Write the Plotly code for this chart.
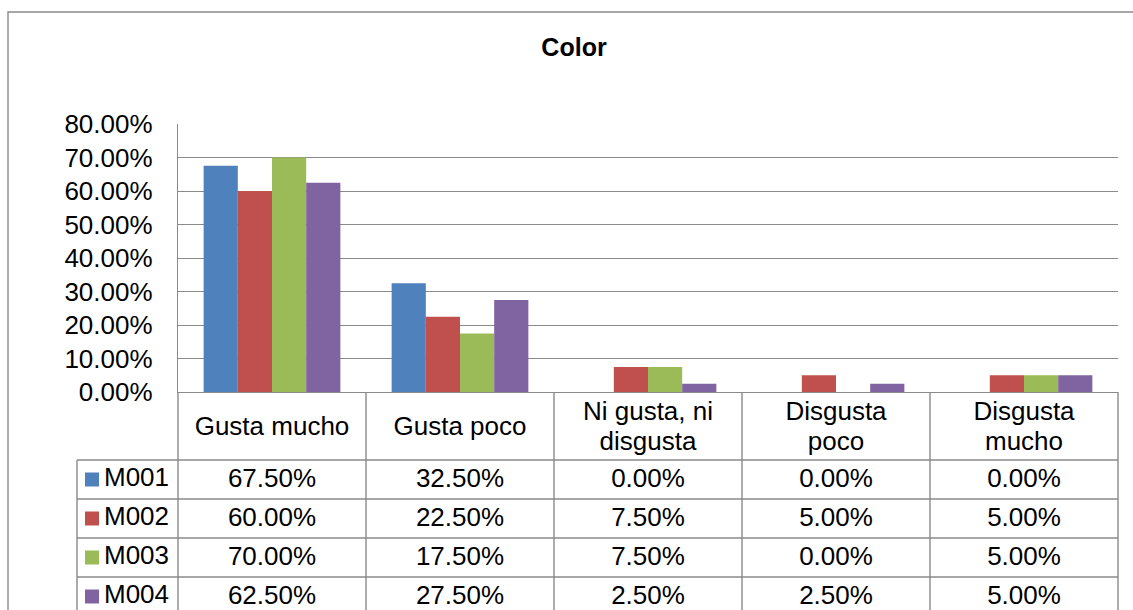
import plotly.graph_objects as go

# ---- data -------------------------------------------------------------
categories = ["Gusta mucho", "Gusta poco", "Ni gusta, ni\ndisgusta",
              "Disgusta\npoco", "Disgusta\nmucho"]
series_names = ["M001", "M002", "M003", "M004"]
m001 = [0.675, 0.325, 0.000, 0.000, 0.000]
m002 = [0.600, 0.225, 0.075, 0.050, 0.050]
m003 = [0.700, 0.175, 0.075, 0.000, 0.050]
m004 = [0.625, 0.275, 0.025, 0.025, 0.050]
y_ticks = [0.0, 0.1, 0.2, 0.3, 0.4, 0.5, 0.6, 0.7, 0.8]
title_text = "Color"

series_values = [m001, m002, m003, m004]
colors = ["#4F81BD", "#C0504D", "#9BBB59", "#8064A2"]

# ---- geometry (pixels) -------------------------------------------------
W, H = 1133, 610
PLOT_L, PLOT_R, PLOT_T, PLOT_B = 178, 1118, 124, 392
TABLE_L = 77
HEADER_H, ROW_H = 68, 39
LINE_GAP = 30
GRID = "#8A8A8A"
FONT = "Liberation Sans, Arial, sans-serif"
FS = 26

n_cat = len(categories)
k = n_cat / (PLOT_R - PLOT_L)          # table-axis units per pixel
X2_DOM = (60, 1130)


def px_to_x2(px):
    return -0.5 + (px - PLOT_L) * k


x_idx = list(range(n_cat))
fig = go.Figure()

# clustered bars
for name, vals, col in zip(series_names, series_values, colors):
    fig.add_trace(go.Bar(x=x_idx, y=vals, name=name, marker_color=col,
                         marker_line_width=0, xaxis="x", yaxis="y"))

# table: header labels (one text item per line)
hx, hy, ht = [], [], []
for i, cat in enumerate(categories):
    lines = cat.split("\n")
    n = len(lines)
    for j, ln in enumerate(lines):
        hx.append(i)
        hy.append(HEADER_H / 2 + 2 + (j - (n - 1) / 2) * LINE_GAP)
        ht.append(ln)
fig.add_trace(go.Scatter(x=hx, y=hy, text=ht, mode="text", xaxis="x2", yaxis="y2",
                         textfont=dict(size=FS, color="black", family=FONT),
                         cliponaxis=False, hoverinfo="skip"))

# table: value rows, legend keys and series names
for r, (name, vals, col) in enumerate(zip(series_names, series_values, colors)):
    yc = HEADER_H + ROW_H * (r + 0.5)
    fig.add_trace(go.Scatter(x=x_idx, y=[yc + 1] * n_cat,
                             text=[f"{v:.2%}" for v in vals], mode="text",
                             xaxis="x2", yaxis="y2", cliponaxis=False,
                             textfont=dict(size=FS, color="black", family=FONT),
                             hoverinfo="skip"))
    fig.add_trace(go.Scatter(x=[px_to_x2(92)], y=[yc], mode="markers",
                             xaxis="x2", yaxis="y2",
                             marker=dict(symbol="square", size=14, color=col,
                                         line=dict(width=0)),
                             hoverinfo="skip"))
    fig.add_annotation(x=px_to_x2(102), y=yc, xref="x2", yref="y2", text=name,
                       showarrow=False, xanchor="left", yanchor="middle", yshift=3,
                       font=dict(size=FS, color="black", family=FONT))

# table grid lines
shapes = []
table_bottom = H - PLOT_B + 10
for b in range(n_cat + 1):
    shapes.append(dict(type="line", xref="x2", yref="y2", x0=b - 0.5, x1=b - 0.5,
                       y0=0, y1=table_bottom, line=dict(color=GRID, width=1.4)))
shapes.append(dict(type="line", xref="x2", yref="y2",
                   x0=px_to_x2(TABLE_L), x1=px_to_x2(TABLE_L),
                   y0=HEADER_H, y1=table_bottom, line=dict(color=GRID, width=1.4)))
for r in range(len(series_names) + 1):
    yy = HEADER_H + ROW_H * r
    shapes.append(dict(type="line", xref="x2", yref="y2",
                       x0=px_to_x2(TABLE_L), x1=n_cat - 0.5, y0=yy, y1=yy,
                       line=dict(color=GRID, width=1.4)))
# chart border
shapes.append(dict(type="rect", xref="paper", yref="paper",
                   x0=8 / W, x1=1.2, y0=-0.2, y1=1 - 12 / H,
                   line=dict(color=GRID, width=1.4), fillcolor="rgba(0,0,0,0)",
                   layer="below"))

fig.update_layout(
    width=W, height=H,
    margin=dict(l=0, r=0, t=0, b=0, pad=0, autoexpand=False),
    paper_bgcolor="white", plot_bgcolor="rgba(0,0,0,0)",
    showlegend=False, hovermode=False,
    barmode="group", bargap=1.5 / 5.5, bargroupgap=0,
    font=dict(family=FONT, size=FS, color="black"),
    title=dict(text=f"<b>{title_text}</b>", x=574 / W, y=1 - 47 / H,
               xanchor="center", yanchor="middle", xref="paper", yref="paper",
               automargin=False,
               font=dict(size=25, family=FONT, color="black")),
    xaxis=dict(domain=[PLOT_L / W, PLOT_R / W], range=[-0.5, n_cat - 0.5],
               showticklabels=False, showgrid=False, zeroline=False,
               showline=True, linecolor=GRID, linewidth=1.4, ticks="",
               anchor="y", fixedrange=True, automargin=False),
    yaxis=dict(domain=[1 - PLOT_B / H, 1 - PLOT_T / H], range=[0, 0.8],
               tickvals=y_ticks, tickformat=".2%", showgrid=True,
               gridcolor=GRID, gridwidth=1.4, zeroline=False, showline=True,
               linecolor=GRID, linewidth=1.4, ticks="", ticklabelstandoff=19,
               tickfont=dict(size=FS, color="black", family=FONT),
               anchor="x", fixedrange=True, automargin=False),
    xaxis2=dict(domain=[X2_DOM[0] / W, X2_DOM[1] / W],
                range=[px_to_x2(X2_DOM[0]), px_to_x2(X2_DOM[1])],
                visible=False, anchor="y2", fixedrange=True, automargin=False),
    yaxis2=dict(domain=[0, 1 - PLOT_B / H], range=[H - PLOT_B, 0],
                visible=False, anchor="x2", fixedrange=True, automargin=False),
    shapes=shapes,
)

fig.write_html("out.html")
